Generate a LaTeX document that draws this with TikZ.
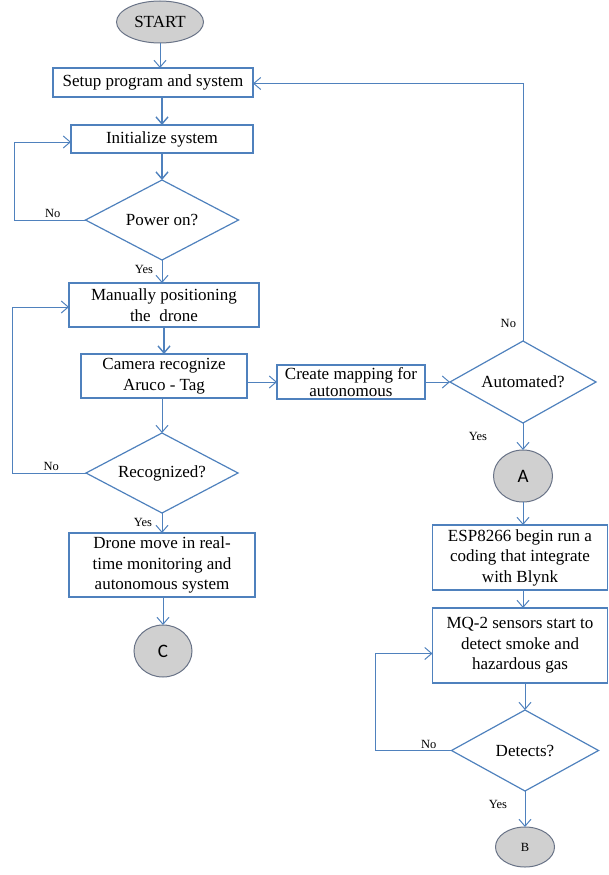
\documentclass[tikz,border=0pt]{standalone}
\usepackage{fontspec}
\setmainfont{Liberation Serif}
\newfontfamily\circfont{Carlito}
\usepackage{xcolor}
\usepackage{tikz}
\usetikzlibrary{positioning,arrows.meta,shapes.geometric}
\definecolor{flowblue}{RGB}{79,129,189}
\definecolor{termgray}{RGB}{208,208,208}
\definecolor{termedge}{RGB}{105,115,135}

\begin{document}
\begin{tikzpicture}[
  x=1pt, y=1pt,
  font=\fontsize{17}{20.5}\selectfont,
  box/.style={draw=flowblue, line width=1.2pt, align=center, inner sep=2pt, outer sep=0pt},
  decision/.style={diamond, draw=flowblue, line width=1.2pt, aspect=2, inner sep=1pt, outer sep=0pt, minimum width=152pt, minimum height=80pt},
  term/.style={ellipse, draw=termedge, line width=1pt, fill=termgray, inner sep=0pt, outer sep=0pt, minimum width=58pt, minimum height=52pt},
  arr/.style={draw=flowblue, line width=1.4pt, -{Straight Barb[length=7pt, width=12pt]}},
  thinarr/.style={arr, line width=1pt},
  lbl/.style={font=\fontsize{12.5}{14}\selectfont, inner sep=1.5pt},
  ]
  \useasboundingbox (0,0) rectangle (609,-875);

  % Left column
  \node[term, minimum width=87pt, minimum height=42pt] (start) at (160,-22) {START};
  \node[box, minimum width=200pt, minimum height=29pt, below=25pt of start, xshift=-7pt] (setup) {Setup program and system};
  \node[box, minimum width=182pt, minimum height=28pt, below=28pt of setup, xshift=9pt] (init) {Initialize system};
  \node[decision, minimum width=153pt, below=27pt of init] (power) {Power on?};
  \node[box, minimum width=190pt, minimum height=44pt, below=23pt of power, xshift=2pt] (manual) {Manually positioning\\the\ \ drone};
  \node[box, minimum width=166pt, minimum height=44pt, below=27pt of manual] (camera) {Camera recognize\\Aruco - Tag};
  \node[decision, below=35pt of camera, xshift=-2pt] (recog) {Recognized?};
  \node[box, minimum width=186pt, minimum height=64pt, below=20pt of recog] (drone) {Drone move in real-\\time monitoring and\\autonomous system};
  \node[term, below=28pt of drone, xshift=1pt] (cnode) {\circfont\fontsize{19}{20}\selectfont C};

  % Right column
  \node[box, minimum width=148pt, minimum height=34pt, right=30pt of camera, yshift=-6pt,
        font=\fontsize{17}{17}\selectfont] (create) {Create mapping for\\autonomous};
  \node[decision, minimum width=146pt, minimum height=82pt, right=25pt of create] (auto) {Automated?};
  \node[term, minimum width=59pt, below=27pt of auto] (anode) {\circfont\fontsize{19}{20}\selectfont A};
  \node[box, minimum width=175pt, minimum height=65pt, below=23pt of anode, xshift=-3pt] (esp) {ESP8266 begin run a\\coding that integrate\\with Blynk};
  \node[box, minimum width=175pt, minimum height=75pt, below=18pt of esp] (mq) {MQ-2 sensors start to\\detect smoke and\\hazardous gas};
  \node[decision, minimum width=147pt, minimum height=81pt, below=27pt of mq, xshift=5pt] (detects) {Detects?};
  \node[term, minimum width=59pt, minimum height=40pt, below=36pt of detects] (bnode) {\fontsize{12.5}{14}\selectfont B};

  % Arrows
  \draw[thinarr] (start) -- (start |- setup.north);
  \draw[arr] (init.north |- setup.south) -- (init.north);
  \draw[arr] (init) -- (power);
  \draw[thinarr] (power.south) -- node[lbl, left=7pt, pos=0.4]{Yes} (power.south |- manual.north);
  \draw[arr] (manual) -- (camera);
  \draw[thinarr] (recog.north |- camera.south) -- (recog.north);
  \draw[thinarr] (recog.south) -- node[lbl, left=8pt, pos=0.45]{Yes} (recog.south |- drone.north);
  \draw[thinarr] (cnode.north |- drone.south) -- (cnode.north);
  \draw[thinarr] (create.west -| camera.east) -- (create.west);
  \draw[thinarr] (create) -- (auto);
  \draw[thinarr] (auto) -- node[lbl, left=34pt, pos=0.5]{Yes} (anode);
  \draw[thinarr] (anode) -- (anode |- esp.north);
  \draw[thinarr] (anode |- esp.south) -- (anode |- mq.north);
  \draw[thinarr] (detects.north |- mq.south) -- (detects.north);
  \draw[thinarr] (detects) -- node[lbl, left=16pt, pos=0.36]{Yes} (bnode);

  % Loops back
  \draw[thinarr] (power.west) -- node[lbl, above, pos=0.46]{No} ++(-71,0) |- ([yshift=-3pt]init.west);
  \draw[thinarr] (recog.west) -- node[lbl, above, pos=0.47]{No} ++(-74,0) |- ([yshift=-2pt]manual.west);
  \draw[thinarr] (detects.west) -- node[lbl, above, pos=0.3]{No} ++(-76,0) |- ([yshift=-8pt]mq.west);
  \draw[thinarr] (auto.north) |- node[lbl, left=5pt, pos=0.035]{No} ([yshift=-1pt]setup.east);
\end{tikzpicture}
\end{document}
